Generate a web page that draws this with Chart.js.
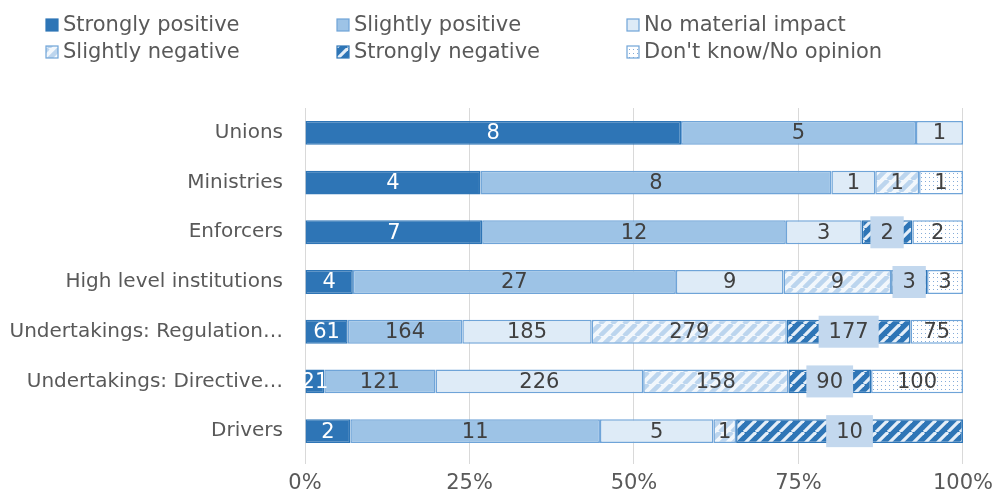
<!DOCTYPE html>
<html>
<head>
<meta charset="utf-8">
<script src="https://cdn.jsdelivr.net/npm/chart.js@4"></script>
<style>
  html, body { margin: 0; padding: 0; background: #fff; }
  #wrap { width: 1000px; height: 493px; }
</style>
</head>
<body>
<div id="wrap"><canvas id="chart"></canvas></div>
<script>
const categories = ["Unions", "Ministries", "Enforcers", "High level institutions",
    "Undertakings: Regulation\u2026", "Undertakings: Directive\u2026", "Drivers"];
const responses = ["Strongly positive", "Slightly positive", "No material impact",
    "Slightly negative", "Strongly negative", "Don't know/No opinion"];

// answer counts per response, one value per category
const stronglyPositive = [8, 4, 7, 4, 61, 21, 2];
const slightlyPositive = [5, 8, 12, 27, 164, 121, 11];
const noImpact = [1, 1, 3, 9, 185, 226, 5];
const slightlyNegative = [0, 1, 0, 9, 279, 158, 1];
const stronglyNegative = [0, 0, 2, 3, 177, 90, 10];
const dontKnow = [0, 1, 2, 3, 75, 100, 0];
const xTicks = ["0%", "25%", "50%", "75%", "100%"];

const counts = [stronglyPositive, slightlyPositive, noImpact, slightlyNegative, stronglyNegative, dontKnow];
const totals = categories.map((c, j) => counts.reduce((s, arr) => s + arr[j], 0));

const FONT = "'DejaVu Sans', Verdana, sans-serif";
const TEXT = '#595959';

function makePattern(size, draw) {
    const c = document.createElement('canvas');
    c.width = size; c.height = size;
    draw(c.getContext('2d'), size);
    return document.createElement('canvas').getContext('2d').createPattern(c, 'repeat');
}

function stripes(bg, fg, size, w) {
    return makePattern(size, (x, s) => {
        x.fillStyle = bg; x.fillRect(0, 0, s, s);
        x.strokeStyle = fg; x.lineWidth = w;
        for (let k = -1; k <= 1; k++) {
            x.beginPath();
            x.moveTo(k * s, s);
            x.lineTo(k * s + s, 0);
            x.stroke();
        }
    });
}

const dots = makePattern(4, (x, s) => {
    x.fillStyle = '#ffffff'; x.fillRect(0, 0, s, s);
    x.fillStyle = '#86acd8'; x.fillRect(1, 1, 1, 1);
});

const fills = ['#2E75B6', '#9DC3E6', '#DEEBF7',
    stripes('#f2f7fc', '#bcd5ee', 12, 4.5),
    stripes('#2E75B6', '#e4eef8', 12, 3.2),
    dots];
const borders = ['#2E75B6', '#6fa4d8', '#6fa4d8', '#6fa4d8', '#2E75B6', '#6fa4d8'];

const datasets = responses.map((r, i) => ({
    label: r,
    data: counts[i].map((v, j) => v / totals[j] * 100),
    backgroundColor: fills[i],
    borderColor: borders[i],
    borderWidth: 1.5,
    borderSkipped: false,
    categoryPercentage: 1,
    barPercentage: 0.48
}));

const labelPlugin = {
    id: 'segmentLabels',
    afterDatasetsDraw(chart) {
        const ctx = chart.ctx;
        ctx.save();
        ctx.font = '21px ' + FONT;
        ctx.textAlign = 'center';
        ctx.textBaseline = 'middle';
        chart.data.datasets.forEach((ds, i) => {
            chart.getDatasetMeta(i).data.forEach((bar, j) => {
                const v = counts[i][j];
                if (!v) return;
                const cx = (bar.x + bar.base) / 2;
                const txt = String(v);
                if (i === 4) {
                    const w = ctx.measureText(txt).width + 20;
                    ctx.fillStyle = '#c3d8ee';
                    ctx.fillRect(cx - w / 2, bar.y - 16, w, 32);
                }
                ctx.fillStyle = i === 0 ? '#ffffff' : '#404040';
                ctx.fillText(txt, cx, bar.y + 1);
            });
        });
        ctx.restore();
    }
};

const legendPlugin = {
    id: 'gridLegend',
    afterDraw(chart) {
        const ctx = chart.ctx;
        const cols = [46, 337, 627];
        const rows = [25, 52];
        ctx.save();
        ctx.font = '21px ' + FONT;
        ctx.textBaseline = 'middle';
        ctx.textAlign = 'left';
        chart.data.datasets.forEach((ds, i) => {
            const x = cols[i % 3], y = rows[Math.floor(i / 3)];
            ctx.fillStyle = ds.backgroundColor;
            ctx.fillRect(x, y - 6, 12, 12);
            ctx.strokeStyle = ds.borderColor;
            ctx.lineWidth = 1.2;
            ctx.strokeRect(x, y - 6, 12, 12);
            ctx.fillStyle = TEXT;
            ctx.fillText(ds.label, x + 17, y + 1);
        });
        ctx.restore();
    }
};

new Chart(document.getElementById('chart'), {
    type: 'bar',
    data: { labels: categories, datasets },
    plugins: [labelPlugin, legendPlugin],
    options: {
        indexAxis: 'y',
        responsive: true,
        maintainAspectRatio: false,
        animation: false,
        layout: { padding: { top: 108, right: 32, left: 0, bottom: 0 } },
        plugins: { legend: { display: false }, tooltip: { enabled: false } },
        scales: {
            x: {
                stacked: true,
                min: 0, max: 100,
                afterFit: s => { s.height = 37; },
                afterBuildTicks: s => { s.ticks = xTicks.map((t, k) => ({ value: k * 25 })); },
                grid: { color: '#d9d9d9', lineWidth: 1, tickLength: 8, drawTicks: true },
                border: { display: false },
                ticks: {
                    padding: 7,
                    color: TEXT,
                    font: { family: FONT, size: 21 },
                    callback: (v, k) => xTicks[k]
                }
            },
            y: {
                stacked: true,
                afterFit: s => { s.width = 305; },
                grid: { display: false },
                border: { display: true, color: '#d9d9d9' },
                ticks: {
                    padding: 14,
                    color: TEXT,
                    font: { family: FONT, size: 20 }
                }
            }
        }
    }
});
</script>
</body>
</html>
